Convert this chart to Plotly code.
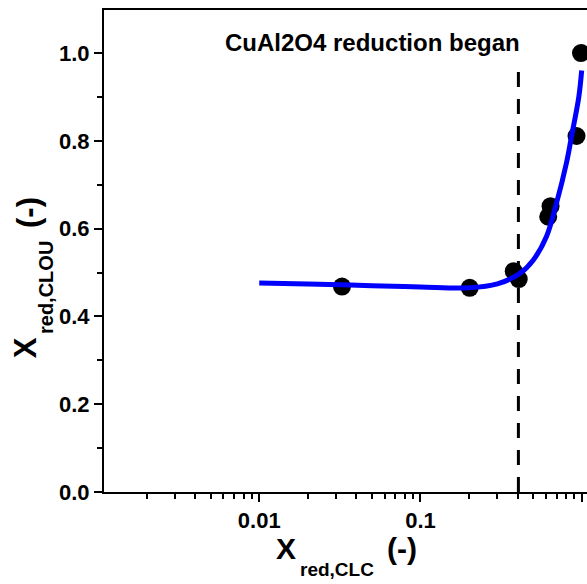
import plotly.graph_objects as go

# Measured reduction degrees (markers)
x_clc = [0.0326, 0.202, 0.379, 0.407, 0.62, 0.641, 0.929, 0.99]
y_clou = [0.468, 0.465, 0.503, 0.485, 0.627, 0.651, 0.811, 1.0]

# Trend line through the measurements
trend_x = [0.01, 0.02, 0.0316, 0.05, 0.1, 0.2, 0.3, 0.414, 0.5, 0.605, 0.698, 0.805, 0.865, 0.96, 1.0]
trend_y = [0.476, 0.474, 0.472, 0.470, 0.467, 0.465, 0.474, 0.498, 0.528, 0.582, 0.658, 0.75, 0.81, 0.90, 0.96]

# Onset of CuAl2O4 reduction
onset_x = [0.405, 0.405]
onset_y = [0.0, 0.968]

x_tick_vals = [0.01, 0.1, 1]
x_tick_text = ["0.01", "0.1", "1"]

FONT = "Liberation Sans, Arial, sans-serif"

W, H = 587, 584
L, R, T, B = 104, 0, 10, 92
PW, PH = W - L - R, H - T - B


def px(x):
    return (x - L) / PW


def py(y):
    return (H - B - y) / PH


fig = go.Figure()

fig.add_trace(go.Scatter(
    x=onset_x, y=onset_y, mode="lines",
    line=dict(color="black", width=3, dash="15px,12px"),
    showlegend=False, hoverinfo="skip",
))

fig.add_trace(go.Scatter(
    x=x_clc, y=y_clou, mode="markers",
    marker=dict(color="black", size=18, line=dict(width=0)),
    showlegend=False, cliponaxis=False,
))

fig.add_trace(go.Scatter(
    x=trend_x, y=trend_y, mode="lines",
    line=dict(color="#0000ff", width=5, shape="spline", smoothing=1.0),
    showlegend=False,
))

tickfont = dict(family=FONT, size=22, color="black", weight="bold")

fig.update_xaxes(
    type="log", range=[-2.963, 0.033],
    tickmode="array", tickvals=x_tick_vals, ticktext=x_tick_text,
    showline=True, linecolor="black", linewidth=2, mirror=True,
    ticks="outside", ticklen=8, tickwidth=2, tickcolor="black",
    minor=dict(ticks="outside", ticklen=5, tickwidth=2, tickcolor="black", dtick="D1", showgrid=False),
    showgrid=False, zeroline=False, tickfont=tickfont,
)
fig.update_yaxes(
    range=[0, 1.098], dtick=0.2, tick0=0, tickformat=".1f",
    showline=True, linecolor="black", linewidth=2, mirror=False,
    ticks="outside", ticklen=8, tickwidth=2, tickcolor="black",
    minor=dict(ticks="outside", ticklen=5, tickwidth=2, tickcolor="black", dtick=0.1, showgrid=False),
    showgrid=False, zeroline=False, tickfont=tickfont,
)


def label(text, x, y, size, angle=0):
    fig.add_annotation(
        text=text, xref="paper", yref="paper", x=px(x), y=py(y),
        xanchor="center", yanchor="middle", showarrow=False, textangle=angle,
        font=dict(family=FONT, size=size, color="black", weight="bold"),
    )


# x-axis title
label("X", 286, 548, 30)
label("red,CLC", 336.7, 569.5, 19)
label("(-)", 401.5, 548, 30)

# y-axis title
label("X", 25.8, 347.5, 31, -90)
label("red,CLOU", 46, 288, 20, -90)
label("(-)", 29, 213, 31, -90)

# onset annotation
label("CuAl2O4 reduction began", 372.5, 42.7, 24)

fig.update_layout(
    width=W, height=H, autosize=False,
    margin=dict(l=L, r=R, t=T, b=B),
    paper_bgcolor="white", plot_bgcolor="white",
)

fig.write_html("out.html")
